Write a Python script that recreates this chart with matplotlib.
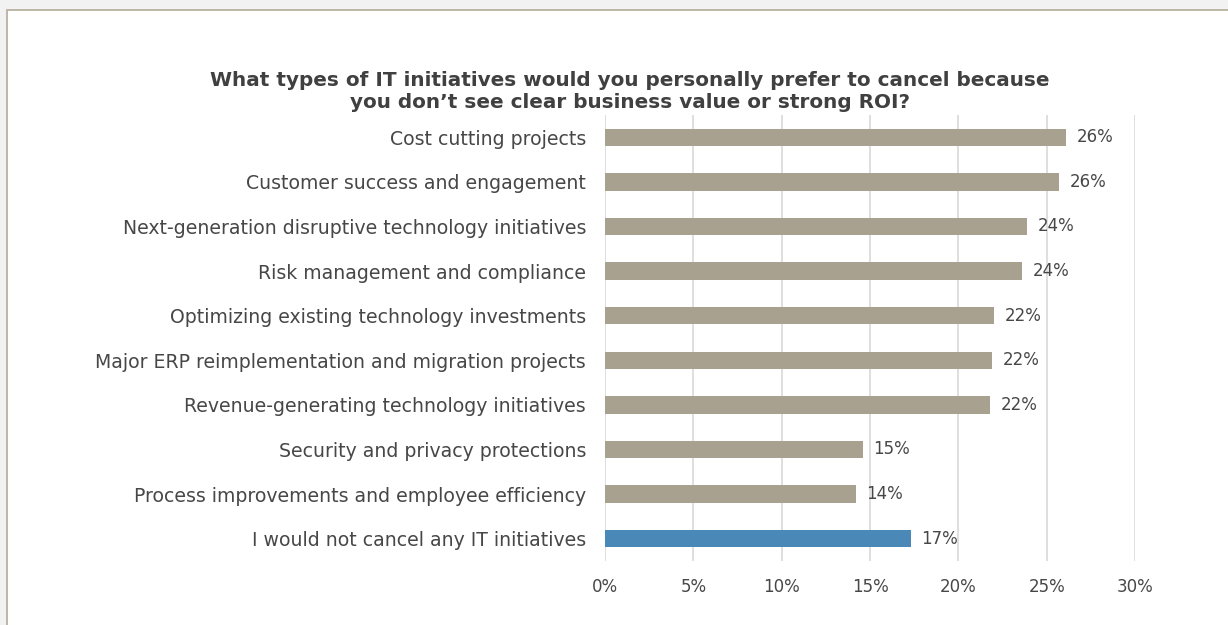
import matplotlib
matplotlib.use("Agg")
import matplotlib.pyplot as plt
from matplotlib.patches import Rectangle
from matplotlib.ticker import FuncFormatter, MultipleLocator

categories = [
    "Cost cutting projects",
    "Customer success and engagement",
    "Next-generation disruptive technology initiatives",
    "Risk management and compliance",
    "Optimizing existing technology investments",
    "Major ERP reimplementation and migration projects",
    "Revenue-generating technology initiatives",
    "Security and privacy protections",
    "Process improvements and employee efficiency",
    "I would not cancel any IT initiatives",
]
values = [26.1, 25.7, 23.9, 23.6, 22.0, 21.9, 21.8, 14.6, 14.2, 17.3]
highlight = "I would not cancel any IT initiatives"
title = ("What types of IT initiatives would you personally prefer to cancel because\n"
         "you don\u2019t see clear business value or strong ROI?")

BAR = "#A9A18F"
BLUE = "#4A88B8"
TEXT = "#404040"
LABEL = "#474747"
GRID = "#D9D9D9"

plt.rcParams["font.family"] = ["DejaVu Sans"]

W, H = 1228, 625
fig = plt.figure(figsize=(W / 100, H / 100), dpi=100)
fig.patch.set_facecolor("#F2F2F2")

# white card with a thin beige border, running off the right and bottom edges
card = Rectangle((7 / W, -0.1), 1.0, 1.1 - 9.5 / H, transform=fig.transFigure,
                 facecolor="white", edgecolor="#BDB7A6", linewidth=1.4, zorder=-10)
fig.patches.append(card)

ax = fig.add_axes([605 / W, 1 - 561 / H, (1135 - 605) / W, (561 - 115) / H])
ax.set_facecolor("none")

ypos = list(range(len(categories)))
colors = [BLUE if c == highlight else BAR for c in categories]
bars = ax.barh(ypos, values, height=0.39, color=colors, zorder=3)

for rect, v in zip(bars, values):
    ax.text(rect.get_width() + 0.6, rect.get_y() + rect.get_height() / 2,
            f"{v:.0f}%", va="center", ha="left", fontsize=12, color=LABEL)

ax.set_xlim(0, 30)
ax.set_ylim(len(categories) - 0.5, -0.5)
ax.xaxis.set_major_locator(MultipleLocator(5))
ax.xaxis.set_major_formatter(FuncFormatter(lambda x, _: f"{x:.0f}%"))
ax.set_yticks(ypos)
ax.set_yticklabels(categories)
ax.tick_params(axis="y", length=0, pad=13.7, labelsize=13.6, labelcolor=LABEL)
ax.tick_params(axis="x", length=0, pad=12.5, labelsize=12, labelcolor=LABEL)
ax.grid(axis="x", color=GRID, linewidth=1.2, zorder=0)
ax.grid(axis="y", visible=False)
for s in ax.spines.values():
    s.set_visible(False)

fig.text(630 / W, 1 - 91.5 / H, title, ha="center", va="center", fontsize=14.4,
         fontweight="bold", color=TEXT, linespacing=1.15)

fig.savefig("out.png", dpi=100, facecolor=fig.get_facecolor())
